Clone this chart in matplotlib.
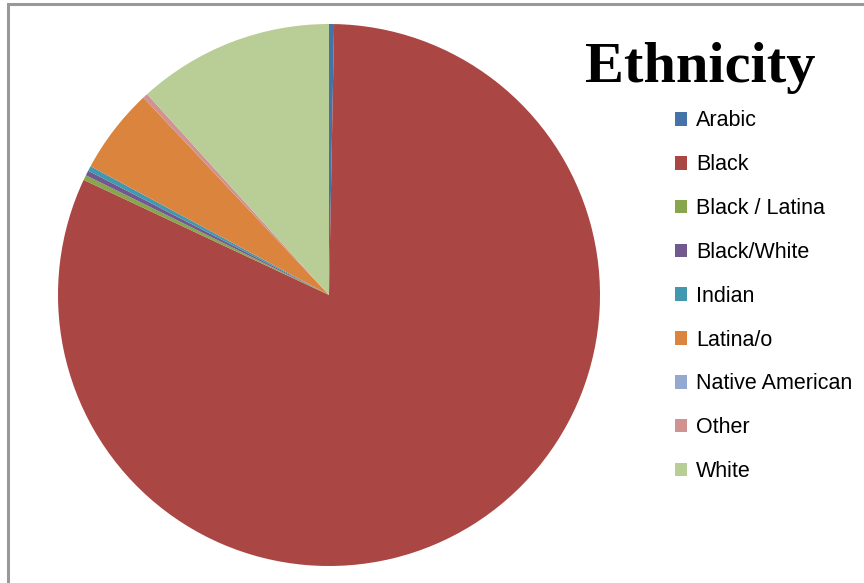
import matplotlib.pyplot as plt
from matplotlib.patches import Rectangle

# ethnicity counts, in legend order
labels = ['Arabic', 'Black', 'Black / Latina', 'Black/White', 'Indian',
          'Latina/o', 'Native American', 'Other', 'White']
counts = [1, 272, 1, 1, 1, 17, 0, 1, 39]
colors = ['#4572A7', '#AA4643', '#89A54E', '#71588F', '#4198AF',
          '#DB843D', '#93A9CF', '#D19392', '#B9CD96']

W, H = 864, 583
fig = plt.figure(figsize=(W / 100, H / 100), dpi=100)

# grey chart-area frame (runs off the right and bottom edges)
fig.add_artist(Rectangle((7.5 / W, -0.1), 1.2, 1.1 - 4.5 / H,
                         transform=fig.transFigure, fill=False,
                         edgecolor='#999999', linewidth=2.2))

# pie axes: center (329, 295) px, radius 271 px
cx, cy, r = 329, 295, 271
ax = fig.add_axes([(cx - r) / W, (H - cy - r) / H, 2 * r / W, 2 * r / H])
wedges, _ = ax.pie(counts, colors=colors, startangle=90, counterclock=False,
                   radius=1.0, wedgeprops={'linewidth': 0})
ax.set_xlim(-1, 1)
ax.set_ylim(-1, 1)
ax.set_aspect('equal')
ax.axis('off')

fig.text(700 / W, 1 - 82 / H, 'Ethnicity', ha='center', va='baseline',
         fontsize=42, fontweight='bold', family='Liberation Serif')

fig.legend(wedges, labels, loc='upper left',
           bbox_to_anchor=(675 / W, 1 - 110.5 / H), frameon=False,
           prop={'family': 'Liberation Sans', 'size': 15.5},
           handlelength=0.56, handleheight=0.6, handletextpad=0.42,
           labelspacing=1.06, borderpad=0, borderaxespad=0)

fig.savefig('out.png', dpi=100)
